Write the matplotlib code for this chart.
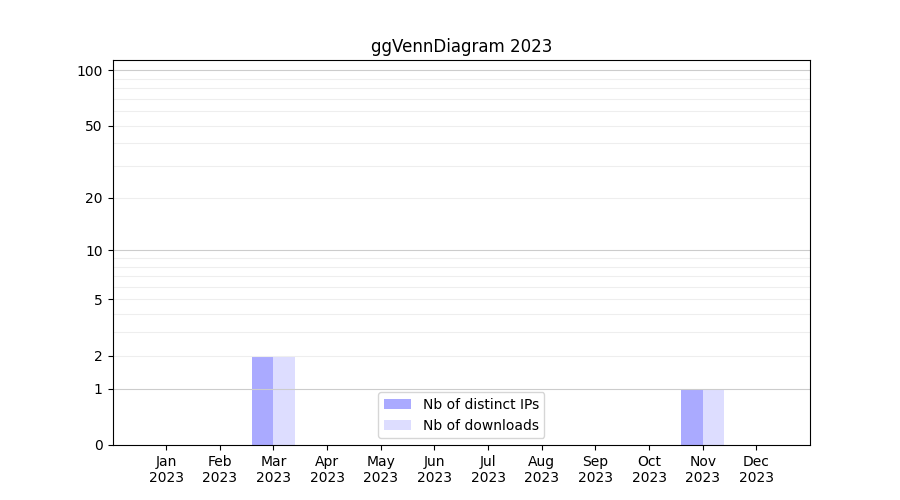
import numpy as np
import matplotlib
matplotlib.use("Agg")
import matplotlib.pyplot as plt

months = ["Jan\n2023", "Feb\n2023", "Mar\n2023", "Apr\n2023", "May\n2023", "Jun\n2023",
          "Jul\n2023", "Aug\n2023", "Sep\n2023", "Oct\n2023", "Nov\n2023", "Dec\n2023"]
distinct_ips = [0, 0, 2, 0, 0, 0, 0, 0, 0, 0, 1, 0]
downloads = [0, 0, 2, 0, 0, 0, 0, 0, 0, 0, 1, 0]
yticks = [0, 1, 2, 5, 10, 20, 50, 100]
major_grid = [1, 10, 100]
minor_grid = [2, 3, 4, 5, 6, 7, 8, 9, 20, 30, 40, 50, 60, 70, 80, 90]

fwd = lambda v: np.log10(1 + np.asarray(v, dtype=float))
inv = lambda v: 10 ** np.asarray(v, dtype=float) - 1

fig, ax = plt.subplots(figsize=(9, 5), dpi=100)
x = np.arange(1, len(months) + 1)
ax.bar(x - 0.2, distinct_ips, width=0.4, color="#aaaaff", label="Nb of distinct IPs")
ax.bar(x + 0.2, downloads, width=0.4, color="#ddddff", label="Nb of downloads")

ax.set_yscale("function", functions=(fwd, inv))
for v in minor_grid:
    ax.axhline(v, color="#eeeeee", linewidth=0.8)
for v in major_grid:
    ax.axhline(v, color="#cccccc", linewidth=0.8)

ax.set_ylim(0, 113.5)
ax.set_xlim(0, 13)
ax.set_yticks(yticks)
ax.set_yticklabels([str(t) for t in yticks])
ax.yaxis.set_minor_locator(matplotlib.ticker.NullLocator())
ax.set_xticks(x)
ax.set_xticklabels(months)
ax.set_title("ggVennDiagram 2023")
ax.legend(loc="lower center")

fig.savefig("out.png")
